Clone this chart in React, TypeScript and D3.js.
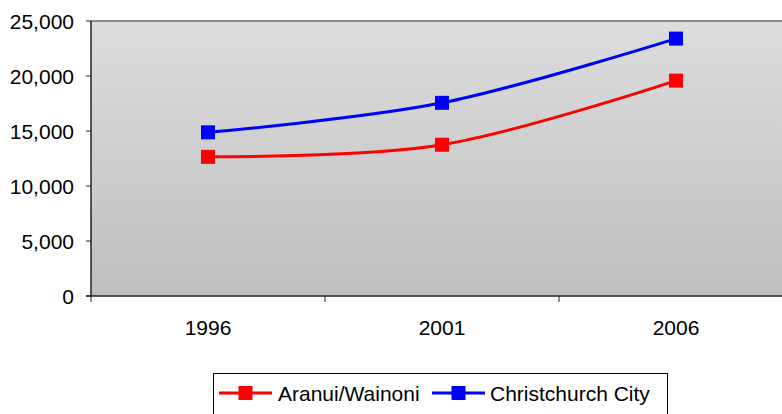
import React from "react";
import * as d3 from "d3";

const years = ["1996", "2001", "2006"];
const aranui = [12650, 13750, 19580];
const christchurch = [14880, 17560, 23400];
const yTicks = [0, 5000, 10000, 15000, 20000, 25000];
const seriesNames = ["Aranui/Wainoni", "Christchurch City"];
const seriesColors = ["#ff0000", "#0000ff"];

const W = 782;
const H = 414;
const left = 91;
const top = 21;
const bottom = 296;
const right = 793;

export default function App() {
  const x = d3.scaleBand<string>().domain(years).range([left, right]);
  const y = d3.scaleLinear().domain([0, 25000]).range([bottom, top]);
  const cx = (d: string) => (x(d) as number) + x.bandwidth() / 2;
  const line = d3
    .line<number>()
    .x((_, i) => cx(years[i]))
    .y((v) => y(v))
    .curve(d3.curveCardinal.tension(0));
  const series = [aranui, christchurch];
  const font = "'Liberation Sans', Arial, sans-serif";
  const ms = 14;
  const catTicks = [...years.map((d) => x(d) as number), right];

  return (
    <svg
      width={W}
      height={H}
      style={{ position: "absolute", left: 0, top: 0, display: "block" }}
      fontFamily={font}
    >
      <defs>
        <linearGradient id="bg" x1="0" y1="0" x2="0" y2="1">
          <stop offset="0%" stopColor="#dddddd" />
          <stop offset="100%" stopColor="#bfbfbf" />
        </linearGradient>
      </defs>
      <rect x={0} y={0} width={W} height={H} fill="#ffffff" />
      <rect x={left} y={top} width={right - left} height={bottom - top} fill="url(#bg)" />
      <line x1={left} x2={right} y1={top} y2={top} stroke="#8c8c8c" strokeWidth={2} />
      {yTicks.map((t) => (
        <g key={t}>
          <line x1={left - 5} x2={left} y1={y(t)} y2={y(t)} stroke="#222" strokeWidth={1} />
          <text
            x={74}
            y={y(t)}
            textAnchor="end"
            dominantBaseline="central"
            fontSize={21}
            fill="#000"
          >
            {d3.format(",")(t)}
          </text>
        </g>
      ))}
      {catTicks.map((t, i) => (
        <line key={i} x1={t} x2={t} y1={bottom} y2={bottom + 6} stroke="#222" strokeWidth={1} />
      ))}
      {years.map((d) => (
        <text
          key={d}
          x={cx(d)}
          y={327}
          textAnchor="middle"
          dominantBaseline="central"
          fontSize={21}
          fill="#000"
        >
          {d}
        </text>
      ))}
      <line x1={left} x2={left} y1={top} y2={bottom + 1} stroke="#222" strokeWidth={1.5} />
      <line x1={left - 5} x2={right} y1={bottom} y2={bottom} stroke="#222" strokeWidth={1.5} />
      {series.map((s, si) => (
        <g key={si}>
          <path d={line(s) || ""} fill="none" stroke={seriesColors[si]} strokeWidth={3} />
          {s.map((v, i) => (
            <rect
              key={i}
              x={cx(years[i]) - ms / 2}
              y={y(v) - ms / 2}
              width={ms}
              height={ms}
              fill={seriesColors[si]}
            />
          ))}
        </g>
      ))}
      <rect x={213.5} y={373.5} width={454} height={60} fill="#fff" stroke="#000" strokeWidth={1} />
      {seriesNames.map((n, i) => {
        const lx = i === 0 ? 219 : 432;
        const tx = i === 0 ? 278 : 490;
        const ly = 393;
        return (
          <g key={n}>
            <line x1={lx} x2={lx + 53} y1={ly} y2={ly} stroke={seriesColors[i]} strokeWidth={3} />
            <rect x={lx + 26.5 - 7} y={ly - 7} width={14} height={14} fill={seriesColors[i]} />
            <text x={tx} y={ly} dominantBaseline="central" fontSize={21} fill="#000">
              {n}
            </text>
          </g>
        );
      })}
    </svg>
  );
}
